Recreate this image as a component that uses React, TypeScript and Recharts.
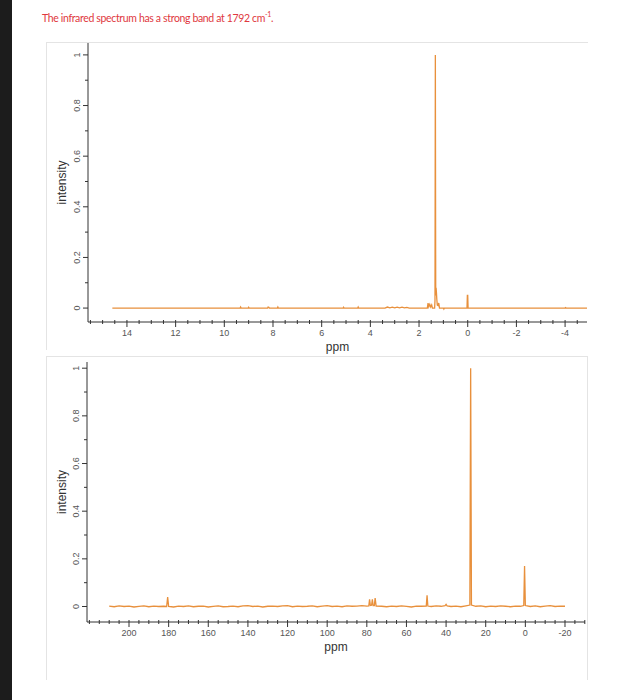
import React from 'react';
import { LineChart, Line, XAxis, YAxis } from 'recharts';

// ---- 1H spectrum (top) ----
const protonPpm = [
  14.6, 9.35, 9.33, 9.31, 9.02, 9.0, 8.98, 8.22, 8.2, 8.17, 8.15, 7.82, 7.8, 7.78,
  5.12, 5.1, 5.08, 4.52, 4.5, 4.48, 3.4, 3.3, 3.2, 3.1, 3.0, 2.9, 2.8, 2.7, 2.6, 2.5, 2.4,
  1.66, 1.63, 1.6, 1.56, 1.52, 1.48, 1.45, 1.36, 1.345, 1.33, 1.315, 1.3, 1.285, 1.27, 1.25,
  1.22, 1.19, 1.16, 1.0, 0.98, 0.96, 0.03, 0.015, 0.0, -0.015, -4.0, -4.02, -4.04, -4.9,
];
const protonIntensity = [
  0, 0, 0.004, 0, 0, 0.003, 0, 0, 0.004, 0.003, 0, 0, 0.004, 0,
  0, 0.003, 0, 0, 0.004, 0, 0, 0.004, 0.001, 0.004, 0.001, 0.004, 0.001, 0.004, 0.001, 0.003, 0,
  0, 0.02, 0.005, 0.015, 0.004, 0.012, 0, 0, 0.03, 1.0, 0.05, 0.08, 0.06, 0.035, 0.012,
  0.01, 0.02, 0, 0, -0.004, 0, 0, 0.05, 0.05, 0, 0, 0.002, 0, 0,
];

// ---- 13C spectrum (bottom) ----
const carbonPpm = [
  210, 207.5, 205, 202.5, 200, 197.5, 195, 192.5, 190, 187.5, 185, 182.5, 181, 180.5, 180,
  177.5, 175, 172.5, 170, 167.5, 165, 162.5, 160, 157.5, 155, 152.5, 150, 147.5, 145, 142.5,
  140, 137.5, 135, 132.5, 130, 127.5, 125, 122.5, 120, 117.5, 115, 112.5, 110, 107.5, 105,
  102.5, 100, 97.5, 95, 92.5, 90, 87.5, 85, 82.5, 80, 79, 78.6, 78.2, 77.6, 77.2, 76.8, 76.2,
  75.8, 75.3, 72.5, 70, 67.5, 65, 62.5, 60, 57.5, 55, 52.5, 50, 49.6, 49.2, 47.5, 45, 42.5,
  40.5, 40, 39.5, 37.5, 35, 32.5, 30, 28.0, 27.6, 27.2, 25, 22.5, 20, 17.5, 15, 12.5, 10,
  7.5, 5, 2.5, 0.8, 0.4, 0.0, -2.5, -5, -7.5, -10, -12.5, -15, -17.5, -20,
];
const carbonIntensity = [
  0.002, -0.001, 0.003, 0.0, 0.002, -0.002, 0.001, 0.003, -0.001, 0.002, 0.0, 0.001, 0, 0.04, 0,
  -0.002, 0.002, 0.0, 0.003, -0.001, 0.001, 0.002, -0.002, 0.001, 0.003, -0.001, 0.0, 0.002, -0.001, 0.003,
  0.004, 0.0, 0.002, -0.002, 0.001, 0.002, 0.0, 0.003, 0.004, -0.001, 0.002, 0.0, 0.001, 0.003, -0.001,
  0.002, 0.004, 0.0, 0.002, -0.001, 0.003, 0.001, 0.002, 0.004, 0.002, 0.003, 0.03, 0.004, 0.005, 0.03, 0.004, 0.004,
  0.035, 0.002, 0.001, -0.001, 0.002, 0.0, 0.003, 0.001, -0.002, 0.002, 0.001, 0.002, 0.047, 0.002, 0.0, 0.003, 0.001,
  0.004, 0.009, 0.003, 0.0, 0.002, -0.001, 0.003, 0.006, 1.0, 0.006, 0.001, 0.003, -0.001, 0.002, 0.0, 0.003, 0.001,
  -0.001, 0.002, 0.001, 0.004, 0.17, 0.004, 0.0, 0.003, -0.001, 0.002, 0.004, 0.0, 0.002, 0.001,
];

// ---- ticks ----
const protonXTicks = [
  15.5, 15, 14.5, 14, 13.5, 13, 12.5, 12, 11.5, 11, 10.5, 10, 9.5, 9, 8.5, 8, 7.5, 7, 6.5, 6,
  5.5, 5, 4.5, 4, 3.5, 3, 2.5, 2, 1.5, 1, 0.5, 0, -0.5, -1, -1.5, -2, -2.5, -3, -3.5, -4, -4.5,
];
const protonXLabels = [14, 12, 10, 8, 6, 4, 2, 0, -2, -4];
const carbonXTicks = [
  220, 215, 210, 205, 200, 195, 190, 185, 180, 175, 170, 165, 160, 155, 150, 145, 140, 135, 130,
  125, 120, 115, 110, 105, 100, 95, 90, 85, 80, 75, 70, 65, 60, 55, 50, 45, 40, 35, 30, 25, 20,
  15, 10, 5, 0, -5, -10, -15, -20, -25, -30,
];
const carbonXLabels = [200, 180, 160, 140, 120, 100, 80, 60, 40, 20, 0, -20];
const yTicks = [0, 0.1, 0.2, 0.3, 0.4, 0.5, 0.6, 0.7, 0.8, 0.9, 1];
const yLabels = [0, 0.2, 0.4, 0.6, 0.8, 1];

const LINE_COLOR = '#e8903c';
const AXIS_COLOR = '#333';
const TICK_FONT = '"Liberation Sans", Arial, sans-serif';

const makeXTick = (labels: number[]) => (props: any) => {
  const { x, y, payload } = props;
  const v = payload.value;
  const major = labels.includes(v);
  return (
    <g>
      <line x1={x} x2={x} y1={y - 2} y2={y + (major ? 5 : 2)} stroke={AXIS_COLOR} strokeWidth={1} />
      {major && (
        <text x={x} y={y + 14} textAnchor="middle" fontSize={9} fontFamily={TICK_FONT} fill="#555">
          {String(v)}
        </text>
      )}
    </g>
  );
};

const makeYTick = () => (props: any) => {
  const { x, y, payload } = props;
  const v = payload.value;
  const major = yLabels.includes(v);
  const tx = x - 11;
  return (
    <g>
      <line x1={x - (major ? 5 : 3)} x2={x} y1={y} y2={y} stroke={AXIS_COLOR} strokeWidth={1} />
      {major && (
        <text
          x={tx}
          y={y}
          textAnchor="middle"
          dominantBaseline="central"
          fontSize={9}
          fontFamily={TICK_FONT}
          fill="#555"
          transform={`rotate(-90, ${tx}, ${y})`}
        >
          {String(v)}
        </text>
      )}
    </g>
  );
};

type SpecProps = {
  top: number;
  height: number;
  ppm: number[];
  intensity: number[];
  xDomain: [number, number];
  xTicks: number[];
  xLabels: number[];
  yDomain: [number, number];
  plotTop: number;
  plotBottom: number;
  plotLeft: number;
  plotRight: number;
};

function Spectrum(p: SpecProps) {
  const data = p.ppm.map((x, i) => ({ ppm: x, intensity: p.intensity[i] }));
  const yAxisWidth = 40;
  const xAxisHeight = 30;
  const width = 620;
  return (
    <div style={{ position: 'absolute', left: 0, top: p.top }}>
      <LineChart
        width={width}
        height={p.height}
        data={data}
        margin={{
          top: p.plotTop,
          right: width - p.plotRight,
          left: p.plotLeft - yAxisWidth,
          bottom: p.height - p.plotBottom - xAxisHeight,
        }}
      >
        <XAxis
          dataKey="ppm"
          type="number"
          domain={p.xDomain}
          reversed
          allowDataOverflow
          ticks={p.xTicks}
          interval={0}
          height={xAxisHeight}
          tickLine={false}
          tickSize={0}
          tickMargin={0}
          axisLine={{ stroke: AXIS_COLOR, strokeWidth: 1 }}
          tick={makeXTick(p.xLabels)}
        />
        <YAxis
          type="number"
          domain={p.yDomain}
          allowDataOverflow
          ticks={yTicks}
          interval={0}
          width={yAxisWidth}
          tickLine={false}
          tickSize={0}
          tickMargin={0}
          axisLine={{ stroke: AXIS_COLOR, strokeWidth: 1 }}
          tick={makeYTick()}
        />
        <Line
          dataKey="intensity"
          type="linear"
          stroke={LINE_COLOR}
          strokeWidth={1.3}
          dot={false}
          activeDot={false}
          isAnimationActive={false}
        />
      </LineChart>
      <svg
        width={width}
        height={p.height}
        style={{ position: 'absolute', left: 0, top: 0, pointerEvents: 'none' }}
      >
        <text
          x={62}
          y={(p.plotTop + p.plotBottom) / 2}
          textAnchor="middle"
          dominantBaseline="central"
          fontSize={12}
          fontFamily={TICK_FONT}
          fill="#333"
          transform={`rotate(-90, 62, ${(p.plotTop + p.plotBottom) / 2})`}
        >
          intensity
        </text>
        <text
          x={(p.plotLeft + p.plotRight) / 2}
          y={p.plotBottom + 29}
          textAnchor="middle"
          fontSize={12}
          fontFamily={TICK_FONT}
          fill="#333"
        >
          ppm
        </text>
      </svg>
    </div>
  );
}

export default function App() {
  return (
    <div
      style={{
        position: 'absolute',
        left: 0,
        top: 0,
        width: 620,
        height: 700,
        background: '#fff',
        overflow: 'hidden',
      }}
    >
      <div style={{ position: 'absolute', left: 0, top: 0, width: 12, height: 700, background: '#1c1c1c' }} />
      <div
        style={{
          position: 'absolute',
          left: 42,
          top: 10,
          fontFamily: 'Lato, "Open Sans", sans-serif',
          fontSize: 10.5,
          letterSpacing: -0.35,
          color: '#e0383e',
          whiteSpace: 'nowrap',
        }}
      >
        The infrared spectrum has a strong band at 1792 cm<sup style={{ fontSize: 7 }}>-1</sup>.
      </div>
      {/* panel frames */}
      <div style={{ position: 'absolute', left: 46, top: 42, width: 542, height: 0, borderTop: '1px solid #e4e4e4' }} />
      <div style={{ position: 'absolute', left: 46, top: 42, width: 0, height: 308, borderLeft: '1px solid #e4e4e4' }} />
      <div
        style={{
          position: 'absolute',
          left: 46,
          top: 356,
          width: 542,
          height: 324,
          borderTop: '1px solid #e4e4e4',
          borderLeft: '1px solid #e4e4e4',
          borderRight: '1px solid #e4e4e4',
          boxSizing: 'border-box',
        }}
      />
      <Spectrum
        top={0}
        height={360}
        ppm={protonPpm}
        intensity={protonIntensity}
        xDomain={[-4.9, 15.6]}
        xTicks={protonXTicks}
        xLabels={protonXLabels}
        yDomain={[-0.055, 1.047]}
        plotTop={43}
        plotBottom={322}
        plotLeft={88}
        plotRight={587}
      />
      <Spectrum
        top={356}
        height={320}
        ppm={carbonPpm}
        intensity={carbonIntensity}
        xDomain={[-30.1, 221.2]}
        xTicks={carbonXTicks}
        xLabels={carbonXLabels}
        yDomain={[-0.065, 1.026]}
        plotTop={6}
        plotBottom={266}
        plotLeft={87}
        plotRight={585}
      />
    </div>
  );
}
